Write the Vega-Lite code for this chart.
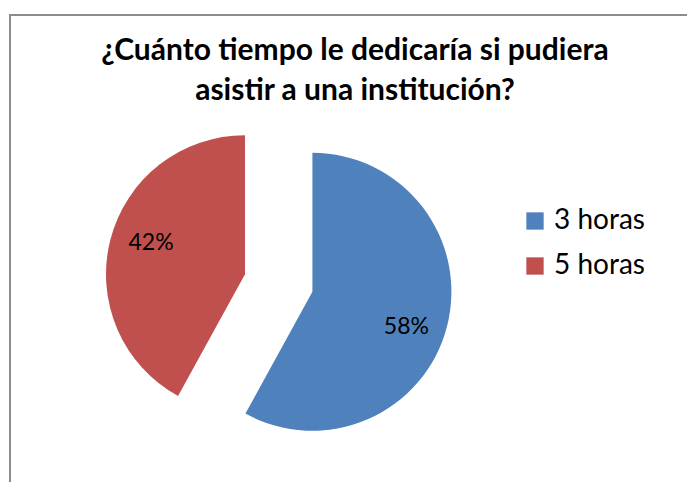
{
  "$schema": "https://vega.github.io/schema/vega-lite/v6.json",
  "width": 700,
  "height": 500,
  "autosize": "none",
  "padding": {"left": 10, "top": 15, "right": 0, "bottom": 0},
  "background": "white",
  "config": {
    "view": {"stroke": null},
    "font": "Lato"
  },
  "title": {
    "text": ["¿Cuánto tiempo le dedicaría si pudiera", "asistir a una institución?"],
    "anchor": "middle",
    "orient": "top",
    "baseline": "top",
    "offset": 0,
    "dy": 92,
    "dx": -5,
    "fontSize": 30,
    "fontWeight": "bold",
    "lineHeight": 40,
    "color": "#000000",
    "font": "Lato"
  },
  "data": {
    "values": [
      {"categoria": "3 horas", "porcentaje": 58, "etiqueta": "58%", "orden": 1},
      {"categoria": "5 horas", "porcentaje": 42, "etiqueta": "42%", "orden": 2}
    ]
  },
  "layer": [
    {
      "mark": {"type": "rect", "filled": false, "stroke": "#8c8c8c", "strokeWidth": 2},
      "encoding": {}
    },
    {
      "mark": {"type": "arc", "outerRadius": 139, "xOffset": -47.6, "yOffset": 26.8},
      "encoding": {
        "theta": {"field": "porcentaje", "type": "quantitative", "stack": true},
        "order": {"field": "orden", "type": "quantitative"},
        "color": {
          "field": "categoria",
          "type": "nominal",
          "scale": {"domain": ["3 horas", "5 horas"], "range": ["#4F81BD", "#C0504D"]},
          "legend": {
            "title": null,
            "orient": "none",
            "legendX": 511,
            "legendY": 192,
            "symbolType": "square",
            "symbolSize": 300,
            "symbolStrokeWidth": 0,
            "labelFontSize": 28,
            "labelFont": "Lato",
            "labelColor": "#000000",
            "rowPadding": 17,
            "labelOffset": 5
          }
        },
        "opacity": {"condition": {"test": "datum.categoria === '3 horas'", "value": 1}, "value": 0}
      }
    },
    {
      "mark": {"type": "arc", "outerRadius": 139, "xOffset": -115, "yOffset": 9.2},
      "encoding": {
        "theta": {"field": "porcentaje", "type": "quantitative", "stack": true},
        "order": {"field": "orden", "type": "quantitative"},
        "color": {"field": "categoria", "type": "nominal"},
        "opacity": {"condition": {"test": "datum.categoria === '5 horas'", "value": 1}, "value": 0}
      }
    },
    {
      "mark": {"type": "text", "radius": 97, "xOffset": -47.6, "yOffset": 38, "fontSize": 23, "font": "Lato", "color": "#000000"},
      "encoding": {
        "theta": {"field": "porcentaje", "type": "quantitative", "stack": true},
        "order": {"field": "orden", "type": "quantitative"},
        "text": {"field": "etiqueta", "type": "nominal"},
        "opacity": {"condition": {"test": "datum.categoria === '3 horas'", "value": 1}, "value": 0}
      }
    },
    {
      "mark": {"type": "text", "radius": 97, "xOffset": -115, "yOffset": 2, "fontSize": 23, "font": "Lato", "color": "#000000"},
      "encoding": {
        "theta": {"field": "porcentaje", "type": "quantitative", "stack": true},
        "order": {"field": "orden", "type": "quantitative"},
        "text": {"field": "etiqueta", "type": "nominal"},
        "opacity": {"condition": {"test": "datum.categoria === '5 horas'", "value": 1}, "value": 0}
      }
    }
  ]
}
